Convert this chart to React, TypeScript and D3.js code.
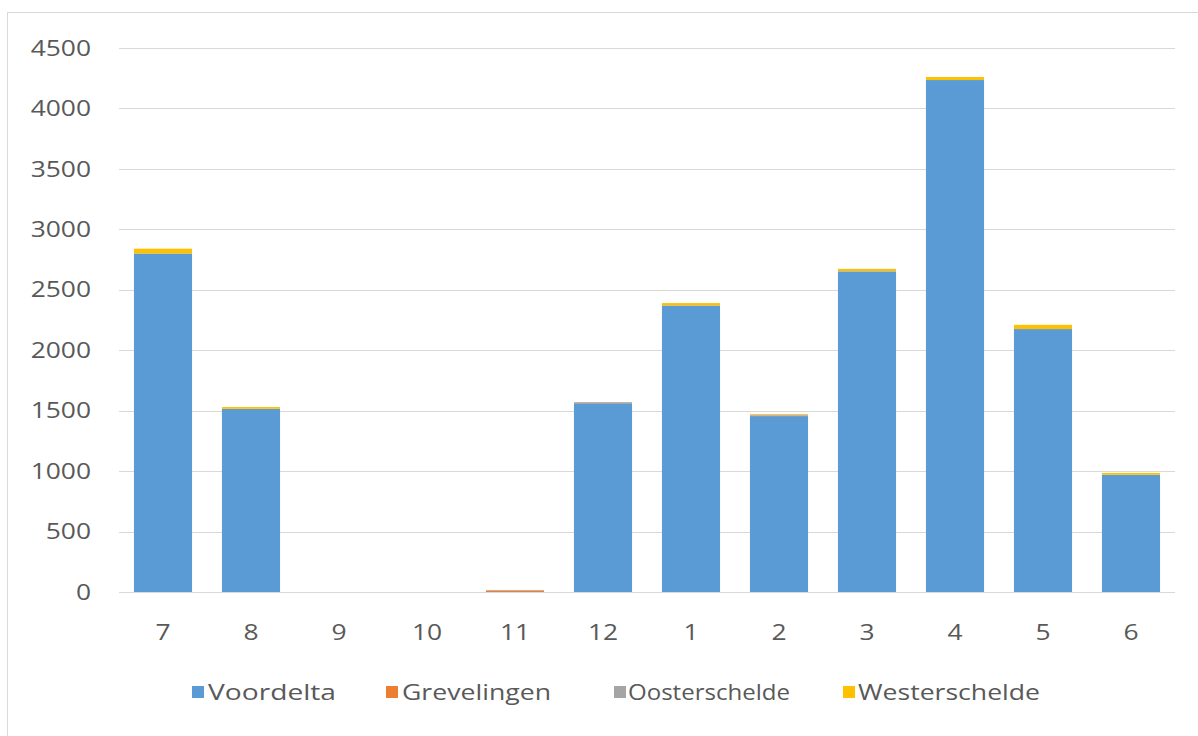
import React, { useEffect, useRef } from "react";
import * as d3 from "d3";

const months = ["7", "8", "9", "10", "11", "12", "1", "2", "3", "4", "5", "6"];
const voordelta = [2800, 1515, 0, 0, 0, 1555, 2370, 1455, 2650, 4235, 2175, 970];
const grevelingen = [0, 0, 0, 0, 12, 0, 0, 5, 0, 0, 0, 0];
const oosterschelde = [0, 0, 0, 0, 5, 15, 0, 8, 5, 0, 0, 0];
const westerschelde = [40, 15, 0, 0, 0, 0, 20, 5, 18, 25, 35, 15];
const seriesNames = ["Voordelta", "Grevelingen", "Oosterschelde", "Westerschelde"];
const seriesColors = ["#5B9BD5", "#ED7D31", "#A5A5A5", "#FFC000"];
const yTicks = [0, 500, 1000, 1500, 2000, 2500, 3000, 3500, 4000, 4500];

const W = 1198;
const H = 736;
const FONT = "Open Sans, sans-serif";
const FS = 22;
const STRETCH = 1.2;

export default function App() {
  const ref = useRef<SVGSVGElement>(null);

  useEffect(() => {
    const svg = d3.select(ref.current);
    svg.selectAll("*").remove();

    // chart frame (runs past the right and bottom edges)
    svg
      .append("rect")
      .attr("x", 7.5)
      .attr("y", 12.5)
      .attr("width", W + 20)
      .attr("height", H + 20)
      .attr("fill", "#fff")
      .attr("stroke", "#d9d9d9");

    const x = d3.scaleBand<string>().domain(months).range([119, 1175]).paddingInner(0.34).paddingOuter(0.17);
    const y = d3.scaleLinear().domain([0, 4500]).range([592, 48]);

    const label = (
      parent: d3.Selection<any, any, any, any>,
      px: number,
      py: number,
      txt: string,
      anchor: string
    ) => {
      parent
        .append("g")
        .attr("transform", `translate(${px},${py}) scale(${STRETCH},1)`)
        .append("text")
        .attr("dy", "0.35em")
        .attr("text-anchor", anchor)
        .attr("fill", "#595959")
        .attr("font-size", FS)
        .attr("font-family", FONT)
        .text(txt);
    };

    const g = svg.append("g");
    g.selectAll("line.grid")
      .data(yTicks)
      .enter()
      .append("line")
      .attr("x1", 119)
      .attr("x2", 1175)
      .attr("y1", (d) => Math.round(y(d)) + 0.5)
      .attr("y2", (d) => Math.round(y(d)) + 0.5)
      .attr("stroke", "#d9d9d9")
      .attr("stroke-width", 1.2);

    yTicks.forEach((t) => label(g, 91, y(t), String(t), "end"));

    const rows = months.map((m, i) => ({
      month: m,
      Voordelta: voordelta[i],
      Grevelingen: grevelingen[i],
      Oosterschelde: oosterschelde[i],
      Westerschelde: westerschelde[i],
    }));
    const stacked = d3.stack<any>().keys(seriesNames)(rows);

    stacked.forEach((layer, li) => {
      g.append("g")
        .attr("fill", seriesColors[li])
        .selectAll("rect")
        .data(layer)
        .enter()
        .append("rect")
        .attr("x", (d: any) => x(d.data.month)!)
        .attr("width", x.bandwidth())
        .attr("y", (d: any) => y(d[1]))
        .attr("height", (d: any) => Math.max(0, y(d[0]) - y(d[1])));
    });

    months.forEach((m) => label(g, x(m)! + x.bandwidth() / 2, 632, m, "middle"));

    // legend: swatch position, text start and text width
    const legendSwatch = [192, 386, 614, 843];
    const legendText = [208, 402, 628, 858];
    const legendWidth = [128, 149, 162, 182];
    const lg = svg.append("g");
    seriesNames.forEach((name, i) => {
      lg.append("rect")
        .attr("x", legendSwatch[i])
        .attr("y", 686)
        .attr("width", 12)
        .attr("height", 12)
        .attr("fill", seriesColors[i]);
      lg.append("text")
        .attr("x", legendText[i])
        .attr("y", 692)
        .attr("dy", "0.35em")
        .attr("fill", "#595959")
        .attr("font-size", FS)
        .attr("font-family", FONT)
        .attr("textLength", legendWidth[i])
        .attr("lengthAdjust", "spacingAndGlyphs")
        .text(name);
    });
  }, []);

  return (
    <svg
      ref={ref}
      width={W}
      height={H}
      style={{ position: "absolute", left: 0, top: 0, background: "#fff" }}
    />
  );
}
